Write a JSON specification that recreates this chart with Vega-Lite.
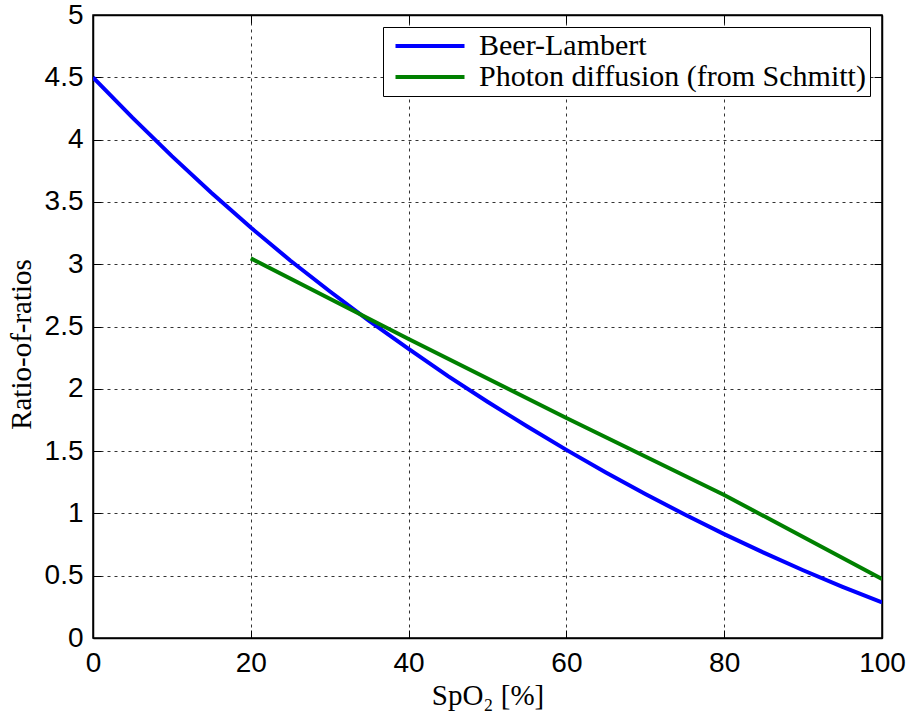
{
  "$schema": "https://vega.github.io/schema/vega-lite/v6.json",
  "width": 789,
  "height": 623,
  "autosize": {"type": "none"},
  "padding": {"left": 93, "top": 15, "right": 27, "bottom": 77},
  "background": "white",
  "data": {"values": [
    {"series": "Beer-Lambert", "spo2": 0, "ratio": 4.5},
    {"series": "Beer-Lambert", "spo2": 5, "ratio": 4.176},
    {"series": "Beer-Lambert", "spo2": 10, "ratio": 3.867},
    {"series": "Beer-Lambert", "spo2": 15, "ratio": 3.573},
    {"series": "Beer-Lambert", "spo2": 20, "ratio": 3.294},
    {"series": "Beer-Lambert", "spo2": 25, "ratio": 3.03},
    {"series": "Beer-Lambert", "spo2": 30, "ratio": 2.783},
    {"series": "Beer-Lambert", "spo2": 35, "ratio": 2.546},
    {"series": "Beer-Lambert", "spo2": 40, "ratio": 2.32},
    {"series": "Beer-Lambert", "spo2": 45, "ratio": 2.102},
    {"series": "Beer-Lambert", "spo2": 50, "ratio": 1.896},
    {"series": "Beer-Lambert", "spo2": 55, "ratio": 1.699},
    {"series": "Beer-Lambert", "spo2": 60, "ratio": 1.51},
    {"series": "Beer-Lambert", "spo2": 65, "ratio": 1.329},
    {"series": "Beer-Lambert", "spo2": 70, "ratio": 1.156},
    {"series": "Beer-Lambert", "spo2": 75, "ratio": 0.991},
    {"series": "Beer-Lambert", "spo2": 80, "ratio": 0.834},
    {"series": "Beer-Lambert", "spo2": 85, "ratio": 0.685},
    {"series": "Beer-Lambert", "spo2": 90, "ratio": 0.544},
    {"series": "Beer-Lambert", "spo2": 95, "ratio": 0.411},
    {"series": "Beer-Lambert", "spo2": 100, "ratio": 0.286},
    {"series": "Photon diffusion (from Schmitt)", "spo2": 20, "ratio": 3.047},
    {"series": "Photon diffusion (from Schmitt)", "spo2": 40, "ratio": 2.4},
    {"series": "Photon diffusion (from Schmitt)", "spo2": 60, "ratio": 1.765},
    {"series": "Photon diffusion (from Schmitt)", "spo2": 80, "ratio": 1.148},
    {"series": "Photon diffusion (from Schmitt)", "spo2": 100, "ratio": 0.473}
  ]},
  "layer": [
    {
      "mark": {"type": "line", "strokeWidth": 4, "clip": true},
      "encoding": {
        "x": {"field": "spo2", "type": "quantitative",
          "scale": {"domain": [0, 100], "nice": false},
          "axis": {"orient": "bottom", "title": "SpO₂ [%]", "values": [0, 20, 40, 60, 80, 100],
            "grid": true, "gridColor": "#000", "gridDash": [3, 4], "gridWidth": 1, "gridOpacity": 0.8,
            "tickSize": -8, "tickColor": "#000", "tickWidth": 1, "labelPadding": 19,
            "labelFont": "Liberation Sans", "labelFontSize": 28, "labelColor": "#000",
            "labelFlush": false, "labelOverlap": false,
            "titleFont": "Liberation Serif", "titleFontSize": 29, "titleFontWeight": "normal", "titleColor": "#000", "titlePadding": 4,
            "domainColor": "#000", "domainWidth": 1.5}},
        "y": {"field": "ratio", "type": "quantitative",
          "scale": {"domain": [0, 5], "nice": false},
          "axis": {"orient": "left", "title": "Ratio-of-ratios", "values": [0, 0.5, 1, 1.5, 2, 2.5, 3, 3.5, 4, 4.5, 5],
            "labelExpr": "'' + datum.value",
            "grid": true, "gridColor": "#000", "gridDash": [3, 4], "gridWidth": 1, "gridOpacity": 0.8,
            "tickSize": -8, "tickColor": "#000", "tickWidth": 1, "labelPadding": 18,
            "labelFont": "Liberation Sans", "labelFontSize": 28, "labelColor": "#000",
            "labelFlush": false, "labelOverlap": false,
            "titleFont": "Liberation Serif", "titleFontSize": 29, "titleFontWeight": "normal", "titleColor": "#000", "titlePadding": 8,
            "titleY": 329,
            "domainColor": "#000", "domainWidth": 1.5}},
        "color": {"field": "series", "type": "nominal",
          "scale": {"domain": ["Beer-Lambert", "Photon diffusion (from Schmitt)"], "range": ["#0000ff", "#008000"]},
          "legend": {"title": null, "orient": "top-right", "offset": 12,
            "symbolType": "M-3,0H3", "symbolSize": 529, "symbolStrokeWidth": 4,
            "symbolOffset": 28, "labelOffset": 34,
            "labelFont": "Liberation Serif", "labelFontSize": 30, "labelColor": "#000",
            "labelLimit": 600, "rowPadding": 1, "padding": 4,
            "strokeColor": "#000", "fillColor": "white"}}
      }
    },
    {
      "mark": {"type": "line", "strokeOpacity": 0},
      "encoding": {
        "x": {"field": "spo2", "type": "quantitative",
          "scale": {"domain": [0, 100], "nice": false},
          "axis": {"orient": "top", "title": null, "values": [0, 20, 40, 60, 80, 100], "labels": false, "grid": false,
            "tickSize": -8, "tickColor": "#000", "domainColor": "#000", "domainWidth": 1.5}},
        "y": {"field": "ratio", "type": "quantitative",
          "scale": {"domain": [0, 5], "nice": false},
          "axis": {"orient": "right", "title": null, "values": [0, 0.5, 1, 1.5, 2, 2.5, 3, 3.5, 4, 4.5, 5], "labels": false, "grid": false,
            "tickSize": -8, "tickColor": "#000", "domainColor": "#000", "domainWidth": 1.5}},
        "detail": {"field": "series", "type": "nominal"}
      }
    }
  ],
  "resolve": {"axis": {"x": "independent", "y": "independent"}},
  "config": {"view": {"stroke": "#000", "strokeWidth": 1.5}}
}
